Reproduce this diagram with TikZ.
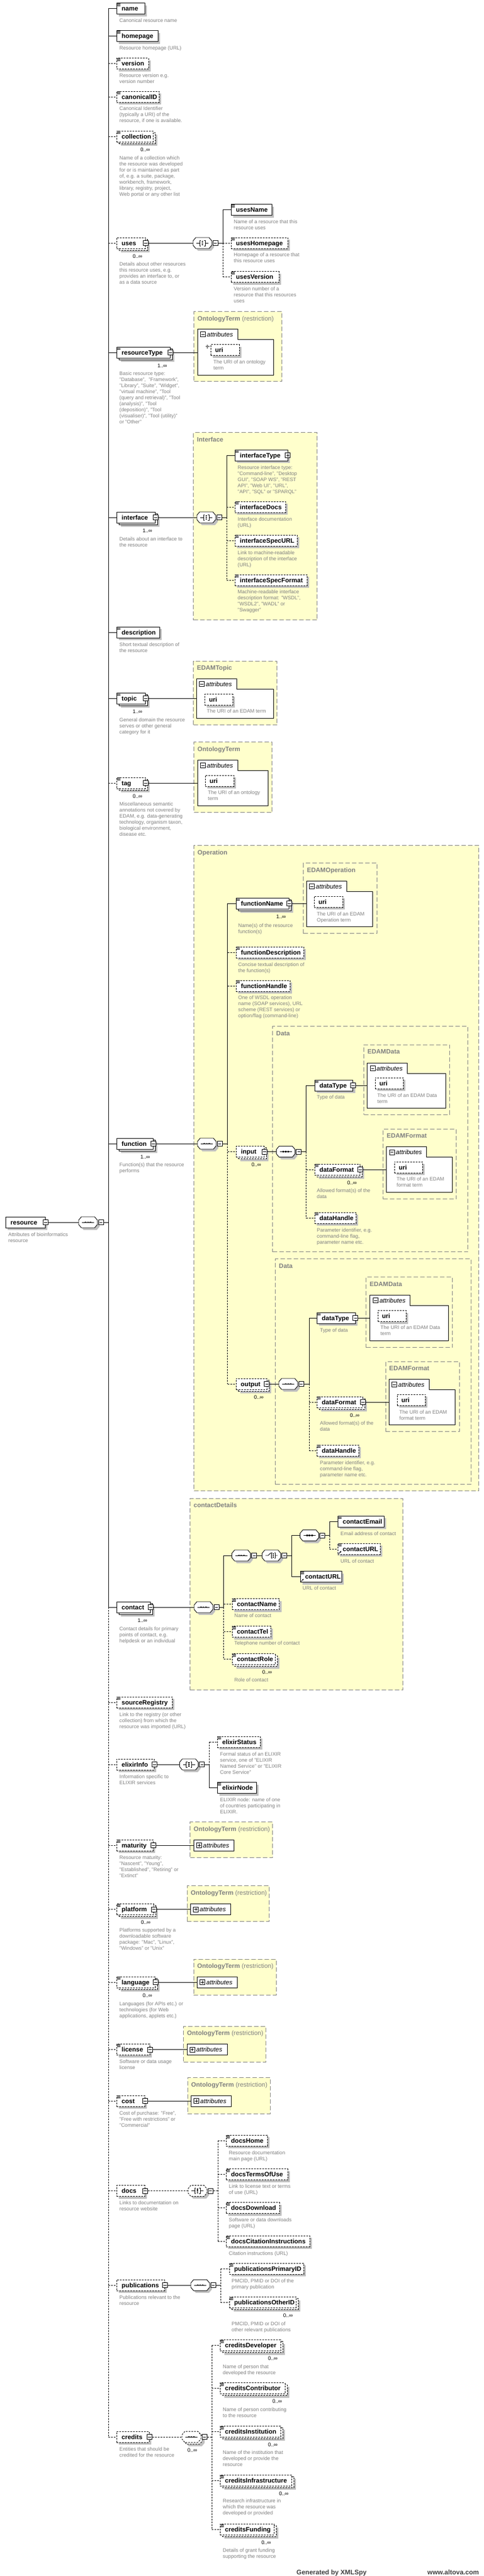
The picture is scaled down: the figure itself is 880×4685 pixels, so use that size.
\documentclass[tikz,border=0pt]{standalone}
\usepackage{fontspec}
\setmainfont{Liberation Sans}
\usetikzlibrary{shadows,arrows.meta}
\definecolor{shd}{RGB}{192,192,192}
\definecolor{dgray}{RGB}{128,128,128}
\definecolor{ylw}{RGB}{255,255,204}
\definecolor{gbord}{RGB}{128,128,128}
\pgfdeclarelayer{background}
\pgfsetlayers{background,main}
\tikzset{
  ebox0/.style={draw=black,fill=white,line width=0.9pt,minimum height=20,inner sep=0},
  ebox/.style={ebox0,drop shadow={shadow xshift=4pt,shadow yshift=-4pt,fill=shd,opacity=1}},
  opt/.style={dash pattern=on 3pt off 2pt},
  ename/.style={font=\bfseries\fontsize{11.5}{13}\selectfont,inner sep=0},
  desc/.style={font=\fontsize{9.2}{11}\selectfont,text=dgray,align=left,inner sep=0,anchor=north west},
  mult/.style={font=\fontsize{9.5}{11}\selectfont,inner sep=0},
  xbox/.style={draw=black,fill=white,line width=1pt,minimum size=9,inner sep=0,path picture={\draw[line width=0.9pt] ([xshift=1.8pt]path picture bounding box.west) -- ([xshift=-1.8pt]path picture bounding box.east);}},
  xpbox/.style={draw=black,fill=white,line width=1pt,minimum size=9,inner sep=0,path picture={\draw[line width=0.9pt] ([xshift=1.8pt]path picture bounding box.west) -- ([xshift=-1.8pt]path picture bounding box.east) ([yshift=-1.8pt]path picture bounding box.north) -- ([yshift=1.8pt]path picture bounding box.south);}},
  ln/.style={line width=0.9pt},
  lnd/.style={line width=0.9pt,dash pattern=on 3pt off 2pt},
  grp/.style={draw=gbord,fill=ylw,line width=1pt,dash pattern=on 8pt off 4pt,inner sep=0},
  glab/.style={font=\fontsize{11.5}{13}\selectfont,text=dgray,inner sep=0},
  attrt/.style={font=\itshape\fontsize{11.5}{13}\selectfont,inner sep=0},
  foot/.style={font=\bfseries\fontsize{12}{14}\selectfont,text=black!75,inner sep=0},
}
\newcommand\zE[6][]{%
  \node[ebox,#1,minimum width=#5,anchor=west] (#2) at (#3,#4) {};
  \node[ename,anchor=base west] (#2-t) at ([xshift=9pt,yshift=-4pt]#2.west) {#6};}
\newcommand\zEM[6][]{%
  \node[ebox,#1,minimum width=#5,anchor=west] (#2-b) at (#3+4,#4+3) {};
  \node[ebox0,#1,minimum width=#5,anchor=west] (#2) at (#3,#4) {};
  \node[ename,anchor=base west] (#2-t) at ([xshift=9pt,yshift=-4pt]#2.west) {#6};}
\newcommand\zIc[1]{\draw[line width=0.6pt] ([xshift=1pt,yshift=-1.2pt]#1.north west) -- ++(6pt,0pt) ([xshift=1pt,yshift=-3.2pt]#1.north west) -- ++(6pt,0pt) ([xshift=1pt,yshift=-5.2pt]#1.north west) -- ++(6pt,0pt);}
\newcommand\zXm[1]{\node[xbox] (#1-x) at (#1.east) {};}
\newcommand\zXp[1]{\node[xpbox] (#1-x) at (#1.east) {};}
\newcommand\zMu[2]{\node[mult,anchor=base east] (#1-m) at ([xshift=-6pt,yshift=-27pt]#1.east) {#2};}
\newcommand\zD[4]{\node[desc] (#1) at (#2,#3-4) {#4};}
\newcommand\zRf[1]{\draw[line width=0.8pt,-{Stealth[length=3pt,width=3pt]}] ([xshift=1.5pt,yshift=1.5pt]#1.south west) -- ++(5pt,5pt);}
\newcommand\zG[6]{\begin{pgfonlayer}{background}\node[grp,minimum width=#4-#2,minimum height=#5-#3,anchor=north west] (#1) at (#2,#3) {};\end{pgfonlayer}\node[glab,anchor=base west] (#1-l) at (#2+7,#3+17) {#6};}
\newcommand\zAt[7]{%
  \node[inner sep=0,minimum width=#6-#2,minimum height=#7-#3,anchor=north west] (#1) at (#2,#3) {};
  \draw[fill=white,line width=1pt] (#2,#7) -- (#2,#3) -- (#4,#3) -- (#4,#5) -- (#6,#5) -- (#6,#7) -- cycle;
  \node[xbox,anchor=west] (#1-x) at (#2+5,#3+10) {};
  \node[attrt,anchor=base west] (#1-t) at (#2+17,#3+14) {attributes};}
\newcommand\zAc[3]{%
  \node[draw=black,fill=white,line width=1pt,minimum width=73,minimum height=20,inner sep=0,anchor=west] (#1) at (#2,#3) {};
  \node[xpbox,anchor=west] (#1-x) at ([xshift=5pt]#1.west) {};
  \node[attrt,anchor=base west] (#1-t) at ([xshift=17pt,yshift=-4pt]#1.west) {attributes};}
\newcommand\zUr[4]{%
  \node[ebox,opt,minimum width=#4,anchor=west] (#1) at (#2,#3) {};
  \node[ename,anchor=base west] (#1-t) at ([xshift=8pt,yshift=-4pt]#1.west) {uri};}
\newcommand\zCo[4][]{%
  \node[inner sep=0,minimum width=34,minimum height=20] (#2) at (#3+17,#4) {};
  \fill[shd] ([xshift=4pt,yshift=-4pt]#2.center) ++(-17,-4) -- ++(5,-6) -- ++(24,0) -- ++(5,6) -- ++(0,8) -- ++(-5,6) -- ++(-24,0) -- ++(-5,-6) -- cycle;
  \draw[fill=white,line width=0.9pt,#1] (#2.center) ++(-17,-4) -- ++(5,-6) -- ++(24,0) -- ++(5,6) -- ++(0,8) -- ++(-5,6) -- ++(-24,0) -- ++(-5,-6) -- cycle;
  \node[xbox,anchor=west] (#2-x) at ([xshift=1.5pt]#2.east) {};}
\newcommand\zgseq[1]{\draw[line width=0.8pt] ([xshift=-11pt]#1.center) -- ([xshift=11pt]#1.center);
  \foreach \dx in {-4.5,0,4.5}{\fill ([xshift=\dx pt]#1.center) ++(-1.4pt,-1.4pt) rectangle ++(2.8pt,2.8pt);}}
\newcommand\zgall[1]{\draw[line width=0.8pt] ([xshift=-11pt]#1.center) -- ([xshift=-5pt]#1.center) ([xshift=5pt]#1.center) -- ([xshift=11pt]#1.center) ([xshift=-3pt,yshift=5pt]#1.center) -- ++(-2pt,0pt) -- ++(0pt,-10pt) -- ++(2pt,0pt) ([xshift=3pt,yshift=5pt]#1.center) -- ++(2pt,0pt) -- ++(0pt,-10pt) -- ++(-2pt,0pt);
  \foreach \dy in {-3.2,0,3.2}{\fill ([yshift=\dy pt]#1.center) ++(-1.2pt,-1.2pt) rectangle ++(2.4pt,2.4pt);}}
\newcommand\zgch[1]{\draw[line width=0.8pt] ([xshift=-11pt]#1.center) -- ([xshift=-6pt]#1.center) -- ([xshift=-1pt,yshift=5pt]#1.center) ([xshift=7pt]#1.center) -- ([xshift=11pt]#1.center) ([xshift=2pt,yshift=5pt]#1.center) -- ++(-2pt,0pt) -- ++(0pt,-10pt) -- ++(2pt,0pt) ([xshift=5pt,yshift=5pt]#1.center) -- ++(2pt,0pt) -- ++(0pt,-10pt) -- ++(-2pt,0pt);
  \foreach \dy in {-3.2,0,3.2}{\fill ([xshift=3.5pt,yshift=\dy pt]#1.center) ++(-1.2pt,-1.2pt) rectangle ++(2.4pt,2.4pt);}}
\newcommand\zH[3][ln]{\draw[#1] (#2 |- #3.west) -- (#3.west);}
\newcommand\zV[4][ln]{\draw[#1] (#2 |- #3) -- (#2 |- #4);}
\begin{document}
\begin{tikzpicture}[x=1pt,y=-1pt]
\begin{pgfonlayer}{background}
\fill[white] (0,0) rectangle (880,4685);
\end{pgfonlayer}
\useasboundingbox (0,0) rectangle (880,4685);

% ---------------- root
\zE{resource}{10}{2223}{72}{resource}\zXm{resource}
\zD{resource-d}{15}{2246}{Attributes of bioinformatics\\resource}
\zCo{rc}{143}{2223}\zgseq{rc}
\draw[ln] (resource-x.east) -- (rc.west);
\coordinate (sp) at (197,0);
\draw[ln] (rc-x.east) -- (rc-x.east -| sp);

% ---------------- main children
\zE{name}{212}{15.5}{51}{name}\zIc{name}
\zD{name-d}{217}{37.5}{Canonical resource name}
\zE{homepage}{212}{65.5}{75}{homepage}\zIc{homepage}
\zD{homepage-d}{217}{87.5}{Resource homepage (URL)}
\zE[opt]{version}{212}{115.5}{58}{version}\zIc{version}
\zD{version-d}{217}{137.5}{Resource version e.g.\\version number}
\zE[opt]{canonicalID}{212}{176}{77}{canonicalID}\zIc{canonicalID}
\zD{canonicalID-d}{217}{198}{Canonical Identifier\\(typically a URI) of the\\resource, if one is available.}
\zEM[opt]{collection}{212}{248}{66}{collection}\zIc{collection}\zMu{collection}{0..∞}
\zD{collection-d}{217}{287.5}{Name of a collection which\\the resource was developed\\for or is maintained as part\\of, e.g. a suite, package,\\workbench, framework,\\library, registry, project,\\Web portal or any other list}

% uses
\zEM[opt]{uses}{212}{442}{52}{uses}\zXm{uses}\zMu{uses}{0..∞}
\zD{uses-d}{217}{481}{Details about other resources\\this resource uses, e.g.\\provides an interface to, or\\as a data source}
\zCo{usesC}{351}{442}\zgall{usesC}
\draw[ln] (uses-x.east) -- (usesC.west);
\coordinate (usp) at (405,0);
\draw[ln] (usesC-x.east) -- (usesC-x.east -| usp);
\zE{usesName}{420}{381.5}{74}{usesName}\zIc{usesName}
\zD{usesName-d}{425}{403.5}{Name of a resource that this\\resource uses}
\zE[opt]{usesHomepage}{420}{442}{103}{usesHomepage}\zIc{usesHomepage}
\zD{usesHomepage-d}{425}{464}{Homepage of a resource that\\this resource uses}
\zE[opt]{usesVersion}{420}{503.5}{87}{usesVersion}\zIc{usesVersion}
\zD{usesVersion-d}{425}{525.6}{Version number of a\\resource that this resources\\uses}
\zV{usp}{usesName.west}{usesC.east}
\zV[lnd]{usp}{usesC.east}{usesVersion.west}
\zH{usp}{usesName}
\zH[lnd]{usp}{usesHomepage}
\zH[lnd]{usp}{usesVersion}

% resourceType
\zEM{resourceType}{212}{641}{97}{resourceType}\zIc{resourceType}\zXm{resourceType}\zMu{resourceType}{1..∞}
\zD{resourceType-d}{217}{680}{Basic resource type:\\"Database",\ \ "Framework",\\"Library", "Suite", "Widget",\\"virtual machine", "Tool\\(query and retrieval)", "Tool\\(analysis)", "Tool\\(deposition)", "Tool\\(visualiser)", "Tool (utility)"\\or "Other"}
\zG{rtG}{352}{566}{512}{693}{\textbf{OntologyTerm} (restriction)}
\zAt{rtA}{359}{598}{432}{617}{497}{682}
\zUr{rtU}{383}{636.5}{52}
\draw[dgray,line width=1.2pt] (373.5,630) -- (380.5,630) (377,626.5) -- (377,633.5);
\zD{rtU-d}{388}{659}{The URI of an ontology\\term}
\draw[ln] (resourceType-x.east) -- (resourceType-x.east -| rtA.west);

% interface
\zEM{interface}{212}{941}{70}{interface}\zXm{interface}\zMu{interface}{1..∞}
\zD{interface-d}{217}{980.6}{Details about an interface to\\the resource}
\zG{ifG}{351}{786}{576}{1127}{\textbf{Interface}}
\zCo{ifC}{358}{941}\zgall{ifC}
\draw[ln] (interface-x.east) -- (ifC.west);
\coordinate (isp) at (412,0);
\draw[ln] (ifC-x.east) -- (ifC-x.east -| isp);
\zE{interfaceType}{427}{828}{95.5}{interfaceType}\zIc{interfaceType}\zXp{interfaceType}
\zD{interfaceType-d}{432}{850.5}{Resource interface type:\\"Command-line", "Desktop\\GUI", "SOAP WS", "REST\\API", "Web UI", "URL",\\"API", "SQL" or "SPARQL"}
\zE[opt]{interfaceDocs}{427}{922}{92}{interfaceDocs}\zIc{interfaceDocs}
\zD{interfaceDocs-d}{432}{944.6}{Interface documentation\\(URL)}
\zE[opt]{interfaceSpecURL}{427}{983}{113}{interfaceSpecURL}\zIc{interfaceSpecURL}
\zD{interfaceSpecURL-d}{432}{1005.5}{Link to machine-readable\\description of the interface\\(URL)}
\zE[opt]{interfaceSpecFormat}{427}{1055}{131}{interfaceSpecFormat}\zIc{interfaceSpecFormat}
\zD{interfaceSpecFormat-d}{432}{1077}{Machine-readable interface\\description format: "WSDL",\\"WSDL2", "WADL" or\\"Swagger"}
\zV{isp}{interfaceType.west}{ifC.east}
\zV[lnd]{isp}{ifC.east}{interfaceSpecFormat.west}
\zH{isp}{interfaceType}
\zH[lnd]{isp}{interfaceDocs}
\zH[lnd]{isp}{interfaceSpecURL}
\zH[lnd]{isp}{interfaceSpecFormat}

% description
\zE{description}{212}{1150}{78}{description}\zIc{description}
\zD{description-d}{217}{1172.3}{Short textual description of\\the resource}

% topic
\zEM{topic}{212}{1270}{52}{topic}\zIc{topic}\zXm{topic}\zMu{topic}{1..∞}
\zD{topic-d}{217}{1309.7}{General domain the resource\\serves or other general\\category for it}
\zG{tpG}{351}{1201.7}{503}{1318}{\textbf{EDAMTopic}}
\zAt{tpA}{357}{1234}{430}{1253}{497}{1306}
\zUr{tpU}{372}{1272.5}{51}
\zD{tpU-d}{376}{1294}{The URI of an EDAM term}
\draw[ln] (topic-x.east) -- (topic-x.east -| tpA.west);

% tag
\zEM[opt]{tag}{212}{1424}{52}{tag}\zIc{tag}\zXm{tag}\zMu{tag}{0..∞}
\zD{tag-d}{217}{1463}{Miscellaneous semantic\\annotations not covered by\\EDAM, e.g. data-generating\\technology, organism taxon,\\biological environment,\\disease etc.}
\zG{tgG}{352}{1349}{494}{1477}{\textbf{OntologyTerm}}
\zAt{tgA}{359}{1382}{432}{1401}{487}{1465}
\zUr{tgU}{373}{1420}{52}
\zD{tgU-d}{378}{1442}{The URI of an ontology\\term}
\draw[ln] (tag-x.east) -- (tag-x.east -| tgA.west);

% function
\zEM{function}{212}{2080}{66}{function}\zXm{function}\zMu{function}{1..∞}
\zD{function-d}{217}{2119}{Function(s) that the resource\\performs}
\zG{opG}{352}{1537}{870}{2711}{\textbf{Operation}}
\zCo{fnC}{359}{2080}\zgseq{fnC}
\draw[ln] (function-x.east) -- (fnC.west);
\coordinate (fsp) at (413.5,0);
\draw[ln] (fnC-x.east) -- (fnC-x.east -| fsp);
\zEM{functionName}{429}{1643}{96}{functionName}\zIc{functionName}\zXm{functionName}\zMu{functionName}{1..∞}
\zD{functionName-d}{433}{1683.6}{Name(s) of the resource\\function(s)}
\zG{eoG}{551}{1569}{685}{1697}{\textbf{EDAMOperation}}
\zAt{eoA}{557}{1602}{630}{1621.7}{677.6}{1685}
\zUr{eoU}{571}{1640}{52}
\zD{eoU-d}{576}{1662.5}{The URI of an EDAM\\Operation term}
\draw[ln] (functionName-x.east) -- (functionName-x.east -| eoA.west);
\zE[opt]{functionDescription}{429}{1732}{123}{functionDescription}\zIc{functionDescription}
\zD{functionDescription-d}{433}{1754.6}{Concise textual description of\\the function(s)}
\zE[opt]{functionHandle}{429}{1793}{98}{functionHandle}\zIc{functionHandle}
\zD{functionHandle-d}{433}{1815}{One of WSDL operation\\name (SOAP services), URL\\scheme (REST services) or\\option/flag (command-line)}

% input
\zG{diG}{495}{1866}{850}{2276}{\textbf{Data}}
\zEM[opt]{input}{429}{2094.5}{51}{input}\zXm{input}\zMu{input}{0..∞}
\zCo{inC}{502.5}{2094.5}\zgseq{inC}
\draw[ln] (input-x.east) -- (inC.west);
\coordinate (insp) at (556.6,0);
\draw[ln] (inC-x.east) -- (inC-x.east -| insp);
\zE{dataType}{571.6}{1974}{69.5}{dataType}\zIc{dataType}\zXm{dataType}
\zD{dataType-d}{576}{1996}{Type of data}
\zG{edG}{661}{1899.6}{817}{2026.7}{\textbf{EDAMData}}
\zAt{edA}{667.5}{1933}{740}{1952}{810.5}{2015}
\zUr{edU}{681.6}{1970}{51}
\zD{edU-d}{686}{1992.5}{The URI of an EDAM Data\\term}
\draw[ln] (dataType-x.east) -- (dataType-x.east -| edA.west);
\zEM[opt]{dataFormat}{571.6}{2127}{82.4}{dataFormat}\zIc{dataFormat}\zXm{dataFormat}\zMu{dataFormat}{0..∞}
\zD{dataFormat-d}{576}{2166}{Allowed format(s) of the\\data}
\zG{efG}{696}{2052.5}{829}{2180}{\textbf{EDAMFormat}}
\zAt{efA}{702.7}{2085.7}{775}{2104}{822.4}{2168}
\zUr{efU}{717}{2123}{51}
\zD{efU-d}{721}{2145}{The URI of an EDAM\\format term}
\draw[ln] (dataFormat-x.east) -- (dataFormat-x.east -| efA.west);
\zE[opt]{dataHandle}{571.6}{2215}{75.4}{dataHandle}\zIc{dataHandle}
\zD{dataHandle-d}{576}{2237.5}{Parameter identifier, e.g.\\command-line flag,\\parameter name etc.}
\zV{insp}{dataType.west}{inC.east}
\zV[lnd]{insp}{inC.east}{dataHandle.west}
\zH{insp}{dataType}
\zH[lnd]{insp}{dataFormat}
\zH[lnd]{insp}{dataHandle}

% output
\zG{doG}{500}{2289}{855.5}{2699}{\textbf{Data}}
\zEM[opt]{output}{428.5}{2517}{56}{output}\zXm{output}\zMu{output}{0..∞}
\zCo{outC}{507}{2517}\zgseq{outC}
\draw[ln] (output-x.east) -- (outC.west);
\coordinate (osp) at (562,0);
\draw[ln] (outC-x.east) -- (outC-x.east -| osp);
\zE{dataType2}{576}{2397}{69.5}{dataType}\zIc{dataType2}\zXm{dataType2}
\zD{dataType2-d}{581.7}{2419.6}{Type of data}
\zG{ed2G}{665}{2322}{822.4}{2450}{\textbf{EDAMData}}
\zAt{ed2A}{672.8}{2355}{745}{2374}{815.8}{2438}
\zUr{ed2U}{686.5}{2393.5}{51.5}
\zD{ed2U-d}{691.7}{2415}{The URI of an EDAM Data\\term}
\draw[ln] (dataType2-x.east) -- (dataType2-x.east -| ed2A.west);
\zEM[opt]{dataFormat2}{576}{2550}{83}{dataFormat}\zIc{dataFormat2}\zXm{dataFormat2}\zMu{dataFormat2}{0..∞}
\zD{dataFormat2-d}{581.7}{2589}{Allowed format(s) of the\\data}
\zG{ef2G}{700.5}{2475.7}{834.7}{2603}{\textbf{EDAMFormat}}
\zAt{ef2A}{707}{2508}{780}{2527}{827}{2591}
\zUr{ef2U}{721.6}{2546}{51.4}
\zD{ef2U-d}{726}{2568.5}{The URI of an EDAM\\format term}
\draw[ln] (dataFormat2-x.east) -- (dataFormat2-x.east -| ef2A.west);
\zE[opt]{dataHandle2}{576}{2638}{76}{dataHandle}\zIc{dataHandle2}
\zD{dataHandle2-d}{581.7}{2660.7}{Parameter identifier, e.g.\\command-line flag,\\parameter name etc.}
\zV{osp}{dataType2.west}{outC.east}
\zV[lnd]{osp}{outC.east}{dataHandle2.west}
\zH{osp}{dataType2}
\zH[lnd]{osp}{dataFormat2}
\zH[lnd]{osp}{dataHandle2}

\zV{fsp}{functionName.west}{fnC.east}
\zV[lnd]{fsp}{fnC.east}{output.west}
\zH{fsp}{functionName}
\zH[lnd]{fsp}{functionDescription}
\zH[lnd]{fsp}{functionHandle}
\zH[lnd]{fsp}{input}
\zH[lnd]{fsp}{output}

% contact
\zEM{contact}{212}{2923}{61}{contact}\zXm{contact}\zMu{contact}{1..∞}
\zD{contact-d}{217}{2962.5}{Contact details for primary\\points of contact, e.g.\\helpdesk or an individual}
\zG{cdG}{345}{2724.6}{732}{3073}{\textbf{contactDetails}}
\zCo{ctC}{353}{2923}\zgseq{ctC}
\draw[ln] (contact-x.east) -- (ctC.west);
\coordinate (csp) at (406.6,0);
\draw[ln] (ctC-x.east) -- (ctC-x.east -| csp);
\zCo{ctS}{421.6}{2829}\zgseq{ctS}
\zCo{ctCh}{476.5}{2829}\zgch{ctCh}
\draw[ln] (ctS-x.east) -- (ctCh.west);
\coordinate (chsp) at (530,0);
\draw[ln] (ctCh-x.east) -- (ctCh-x.east -| chsp);
\zCo{ctS3}{545.6}{2792.5}\zgseq{ctS3}
\coordinate (s3sp) at (599.3,0);
\draw[ln] (ctS3-x.east) -- (ctS3-x.east -| s3sp);
\zE{contactEmail}{614}{2767}{84}{contactEmail}\zIc{contactEmail}
\zD{contactEmail-d}{619}{2790}{Email address of contact}
\zE[opt]{contactURL}{614}{2817}{77}{contactURL}\zIc{contactURL}\zRf{contactURL}
\zD{contactURL-d}{619}{2839.7}{URL of contact}
\zE{contactURL2}{545.6}{2867.5}{75.4}{contactURL}\zIc{contactURL2}\zRf{contactURL2}
\zD{contactURL2-d}{550}{2889}{URL of contact}
\zE[opt]{contactName}{421.6}{2917.5}{85.7}{contactName}\zIc{contactName}
\zD{contactName-d}{426}{2939}{Name of contact}
\zE[opt]{contactTel}{421.6}{2967.5}{70.4}{contactTel}\zIc{contactTel}
\zD{contactTel-d}{426}{2989}{Telephone number of contact}
\zEM[opt]{contactRole}{421.6}{3017.5}{78}{contactRole}\zIc{contactRole}\zMu{contactRole}{0..∞}
\zD{contactRole-d}{426}{3056}{Role of contact}
\zV{csp}{ctS.west}{ctC.east}
\zV[lnd]{csp}{ctC.east}{contactRole.west}
\zH{csp}{ctS}
\zH[lnd]{csp}{contactName}
\zH[lnd]{csp}{contactTel}
\zH[lnd]{csp}{contactRole}
\zV{chsp}{ctS3.west}{contactURL2.west}
\zH{chsp}{ctS3}
\zH{chsp}{contactURL2}
\zV{s3sp}{contactEmail.west}{ctS3.east}
\zV[lnd]{s3sp}{ctS3.east}{contactURL.west}
\zH{s3sp}{contactEmail}
\zH[lnd]{s3sp}{contactURL}

% sourceRegistry, elixirInfo
\zE[opt]{sourceRegistry}{212}{3096}{101}{sourceRegistry}\zIc{sourceRegistry}
\zD{sourceRegistry-d}{217}{3118.5}{Link to the registry (or other\\collection) from which the\\resource was imported (URL)}
\zE[opt]{elixirInfo}{212}{3209}{68}{elixirInfo}\zXm{elixirInfo}
\zD{elixirInfo-d}{217}{3231.7}{Information specific to\\ELIXIR services}
\zCo{elC}{326.5}{3209}\zgall{elC}
\draw[ln] (elixirInfo-x.east) -- (elC.west);
\coordinate (esp) at (380.6,0);
\draw[ln] (elC-x.east) -- (elC-x.east -| esp);
\zE[opt]{elixirStatus}{395}{3168}{78}{elixirStatus}\zIc{elixirStatus}
\zD{elixirStatus-d}{400}{3190.6}{Formal status of an ELIXIR\\service, one of "ELIXIR\\Named Service" or "ELIXIR\\Core Service"}
\zE{elixirNode}{395}{3251.5}{70.5}{elixirNode}\zIc{elixirNode}
\zD{elixirNode-d}{400}{3273.5}{ELIXIR node: name of one\\of countries participating in\\ELIXIR.}
\zV[lnd]{esp}{elixirStatus.west}{elC.east}
\zV{esp}{elC.east}{elixirNode.west}
\zH[lnd]{esp}{elixirStatus}
\zH{esp}{elixirNode}

% restrictions
\zE[opt]{maturity}{212}{3356}{66}{maturity}\zIc{maturity}\zXm{maturity}
\zD{maturity-d}{217}{3378.6}{Resource maturity:\\"Nascent", "Young",\\"Established", "Retiring" or\\"Extinct"}
\zG{maG}{345}{3313}{495}{3378}{\textbf{OntologyTerm} (restriction)}
\zAc{maA}{352}{3356}
\draw[ln] (maturity-x.east) -- (maA.west);

\zEM[opt]{platform}{212}{3472.7}{67}{platform}\zIc{platform}\zXm{platform}\zMu{platform}{0..∞}
\zD{platform-d}{217}{3511}{Platforms supported by a\\downloadable software\\package: "Mac", "Linux",\\"Windows" or "Unix"}
\zG{plG}{339.6}{3429}{489}{3494}{\textbf{OntologyTerm} (restriction)}
\zAc{plA}{346}{3472.7}
\draw[ln] (platform-x.east) -- (plA.west);

\zEM[opt]{language}{212}{3605}{70}{language}\zIc{language}\zXm{language}\zMu{language}{0..∞}
\zD{language-d}{217}{3644.6}{Languages (for APIs etc.) or\\technologies (for Web\\applications, applets etc.)}
\zG{lgG}{351.5}{3562.5}{501.6}{3627.5}{\textbf{OntologyTerm} (restriction)}
\zAc{lgA}{358}{3605}
\draw[ln] (language-x.east) -- (lgA.west);

\zE[opt]{license}{212}{3727.5}{60}{license}\zIc{license}\zXm{license}
\zD{license-d}{217}{3749.6}{Software or data usage\\license}
\zG{liG}{333}{3684.6}{482.6}{3749.6}{\textbf{OntologyTerm} (restriction)}
\zAc{liA}{339.6}{3727.5}
\draw[ln] (license-x.east) -- (liA.west);

\zE[opt]{cost}{212}{3821}{51}{cost}\zIc{cost}\zXm{cost}
\zD{cost-d}{217}{3843.5}{Cost of purchase: "Free",\\"Free with restrictions" or\\"Commercial"}
\zG{coG}{340.5}{3778}{490.6}{3843.5}{\textbf{OntologyTerm} (restriction)}
\zAc{coA}{347}{3821}
\draw[ln] (cost-x.east) -- (coA.west);

% docs
\zE[opt]{docs}{212}{3984.5}{51}{docs}\zXm{docs}
\zD{docs-d}{217}{4006.7}{Links to documentation on\\resource website}
\zCo[opt]{dcC}{342}{3984.5}\zgall{dcC}
\draw[lnd] (docs-x.east) -- (dcC.west);
\coordinate (dsp) at (396,0);
\draw[lnd] (dcC-x.east) -- (dcC-x.east -| dsp);
\zE[opt]{docsHome}{411}{3893}{75}{docsHome}\zIc{docsHome}
\zD{docsHome-d}{416}{3915.7}{Resource documentation\\main page (URL)}
\zE[opt]{docsTermsOfUse}{411}{3954.7}{112}{docsTermsOfUse}\zIc{docsTermsOfUse}
\zD{docsTermsOfUse-d}{416}{3976.7}{Link to license text or terms\\of use (URL)}
\zE[opt]{docsDownload}{411}{4015.5}{97}{docsDownload}\zIc{docsDownload}
\zD{docsDownload-d}{416}{4037.7}{Software or data downloads\\page (URL)}
\zE[opt]{docsCitationInstructions}{411}{4076}{152}{docsCitationInstructions}\zIc{docsCitationInstructions}
\zD{docsCitationInstructions-d}{416}{4098.7}{Citation instructions (URL)}
\zV[lnd]{dsp}{docsHome.west}{docsCitationInstructions.west}
\zH[lnd]{dsp}{docsHome}
\zH[lnd]{dsp}{docsTermsOfUse}
\zH[lnd]{dsp}{docsDownload}
\zH[lnd]{dsp}{docsCitationInstructions}

% publications
\zE[opt]{publications}{212}{4156}{87}{publications}\zXm{publications}
\zD{publications-d}{217}{4178.7}{Publications relevant to the\\resource}
\zCo{pbC}{347}{4156}\zgseq{pbC}
\draw[ln] (publications-x.east) -- (pbC.west);
\coordinate (psp) at (401,0);
\draw[ln] (pbC-x.east) -- (pbC-x.east -| psp);
\zE[opt]{publicationsPrimaryID}{416.6}{4126}{135}{publicationsPrimaryID}\zIc{publicationsPrimaryID}
\zD{publicationsPrimaryID-d}{421}{4148.7}{PMCID, PMID or DOI of the\\primary publication}
\zEM[opt]{publicationsOtherID}{416.6}{4187}{121}{publicationsOtherID}\zIc{publicationsOtherID}\zMu{publicationsOtherID}{0..∞}
\zD{publicationsOtherID-d}{421}{4226.7}{PMCID, PMID or DOI of\\other relevant publications}
\zV[lnd]{psp}{publicationsPrimaryID.west}{publicationsOtherID.west}
\zH[lnd]{psp}{publicationsPrimaryID}
\zH[lnd]{psp}{publicationsOtherID}

% credits
\zE[opt]{credits}{212}{4432}{59}{credits}\zXm{credits}
\zD{credits-d}{217}{4454.3}{Entities that should be\\credited for the resource}
\fill[shd] (348+7,4432+7) ++(-17,-4) -- ++(5,-6) -- ++(24,0) -- ++(5,6) -- ++(0,8) -- ++(-5,6) -- ++(-24,0) -- ++(-5,-6) -- cycle;
\draw[fill=white,line width=0.9pt,opt] (348+3,4432+3) ++(-17,-4) -- ++(5,-6) -- ++(24,0) -- ++(5,6) -- ++(0,8) -- ++(-5,6) -- ++(-24,0) -- ++(-5,-6) -- cycle;
\node[inner sep=0,minimum width=34,minimum height=20] (crC) at (348,4432) {};
\draw[fill=white,line width=0.9pt,opt] (crC.center) ++(-17,-4) -- ++(5,-6) -- ++(24,0) -- ++(5,6) -- ++(0,8) -- ++(-5,6) -- ++(-24,0) -- ++(-5,-6) -- cycle;
\zgseq{crC}
\node[xbox,anchor=west] (crC-x) at ([xshift=1.5pt]crC.east) {};
\node[mult,anchor=base east] (crC-m) at (358.5,4459) {0..∞};
\draw[lnd] (credits-x.east) -- (crC.west);
\coordinate (crsp) at (385,0);
\draw[lnd] (crC-x.east) -- (crC-x.east -| crsp);
\zEM[opt]{creditsDeveloper}{400}{4265.6}{110}{creditsDeveloper}\zIc{creditsDeveloper}\zMu{creditsDeveloper}{0..∞}
\zD{creditsDeveloper-d}{405}{4304.7}{Name of person that\\developed the resource}
\zEM[opt]{creditsContributor}{400}{4343.7}{118}{creditsContributor}\zIc{creditsContributor}\zMu{creditsContributor}{0..∞}
\zD{creditsContributor-d}{405}{4382.7}{Name of person contributing\\to the resource}
\zEM[opt]{creditsInstitution}{400}{4422}{110}{creditsInstitution}\zIc{creditsInstitution}\zMu{creditsInstitution}{0..∞}
\zD{creditsInstitution-d}{405}{4460.7}{Name of the institution that\\developed or provide the\\resource}
\zEM[opt]{creditsInfrastructure}{400}{4511}{130}{creditsInfrastructure}\zIc{creditsInfrastructure}\zMu{creditsInfrastructure}{0..∞}
\zD{creditsInfrastructure-d}{405}{4549}{Research infrastructure in\\which the resource was\\developed or provided}
\zEM[opt]{creditsFunding}{400}{4600}{98}{creditsFunding}\zIc{creditsFunding}\zMu{creditsFunding}{0..∞}
\zD{creditsFunding-d}{405}{4638.3}{Details of grant funding\\supporting the resource}
\zV[lnd]{crsp}{creditsDeveloper.west}{creditsFunding.west}
\zH[lnd]{crsp}{creditsDeveloper}
\zH[lnd]{crsp}{creditsContributor}
\zH[lnd]{crsp}{creditsInstitution}
\zH[lnd]{crsp}{creditsInfrastructure}
\zH[lnd]{crsp}{creditsFunding}

% ---------------- main spine
\zV{sp}{name.west}{contact.west}
\zV[lnd]{sp}{contact.west}{credits.west}
\zH{sp}{name}
\zH{sp}{homepage}
\zH[lnd]{sp}{version}
\zH[lnd]{sp}{canonicalID}
\zH[lnd]{sp}{collection}
\zH[lnd]{sp}{uses}
\zH{sp}{resourceType}
\zH{sp}{interface}
\zH{sp}{description}
\zH{sp}{topic}
\zH[lnd]{sp}{tag}
\zH{sp}{function}
\zH{sp}{contact}
\zH[lnd]{sp}{sourceRegistry}
\zH[lnd]{sp}{elixirInfo}
\zH[lnd]{sp}{maturity}
\zH[lnd]{sp}{platform}
\zH[lnd]{sp}{language}
\zH[lnd]{sp}{license}
\zH[lnd]{sp}{cost}
\zH[lnd]{sp}{docs}
\zH[lnd]{sp}{publications}
\zH[lnd]{sp}{credits}

% footer
\node[foot,anchor=base west] (gen) at (539,4682) {Generated by XMLSpy};
\node[foot,anchor=base east] (alt) at (871,4682) {www.altova.com};
\end{tikzpicture}
\end{document}
